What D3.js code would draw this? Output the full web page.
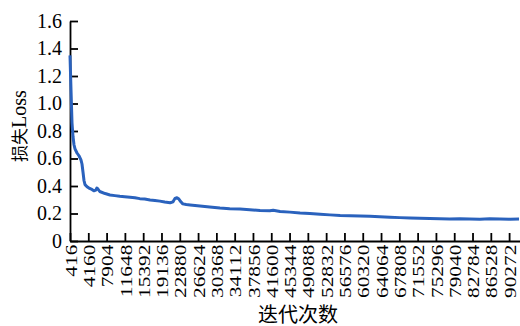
<!DOCTYPE html>
<html>
<head>
<meta charset="utf-8">
<script src="https://cdn.jsdelivr.net/npm/d3@7"></script>
<style>
  body { margin: 0; background: #fff; }
  svg text { font-family: "Liberation Serif", "Noto Sans CJK SC", serif; fill: #000; }
</style>
</head>
<body>
<svg id="chart" width="520" height="326"></svg>
<script>
// iteration numbers of the loss samples
const iterations = [416, 620, 825, 1030, 1234, 1440, 1850, 2250, 2660, 2870, 3080, 3280, 3490, 3900,
  4300, 4900, 5300, 5700, 5900, 6100, 6500, 7600, 8600, 9600, 10600, 11600, 12700, 13700, 14700,
  15700, 16800, 17800, 18800, 19800, 20900, 21500, 21900, 22300, 22700, 23100, 23500, 24200, 25000,
  27000, 29000, 31100, 33100, 35200, 37200, 39300, 41300, 42000, 43400, 45400, 47500, 49500, 51600,
  53600, 55700, 57700, 59800, 61800, 63800, 65900, 67900, 70000, 72000, 74000, 76100, 78100, 80200,
  82200, 84300, 86300, 88400, 90400, 92300];
// loss values
const losses = [1.35, 1.10, 0.86, 0.76, 0.70, 0.67, 0.64, 0.62, 0.59, 0.56, 0.50, 0.44, 0.41, 0.395,
  0.385, 0.375, 0.365, 0.37, 0.385, 0.38, 0.36, 0.345, 0.335, 0.33, 0.325, 0.322, 0.318, 0.315, 0.308,
  0.305, 0.298, 0.295, 0.29, 0.283, 0.278, 0.285, 0.31, 0.315, 0.305, 0.285, 0.27, 0.265, 0.262,
  0.255, 0.247, 0.24, 0.235, 0.232, 0.228, 0.222, 0.22, 0.224, 0.215, 0.21, 0.204, 0.2, 0.195,
  0.19, 0.186, 0.184, 0.182, 0.18, 0.177, 0.173, 0.17, 0.168, 0.165, 0.163, 0.162, 0.16, 0.162,
  0.16, 0.159, 0.161, 0.16, 0.159, 0.16];
const xTickValues = [416, 4160, 7904, 11648, 15392, 19136, 22880, 26624, 30368, 34112, 37856, 41600,
  45344, 49088, 52832, 56576, 60320, 64064, 67808, 71552, 75296, 79040, 82784, 86528, 90272];
const yTickValues = [0, 0.2, 0.4, 0.6, 0.8, 1.0, 1.2, 1.4, 1.6];

const margin = { top: 21, right: 0, bottom: 85, left: 70 };
const width = 520 - margin.left - margin.right;
const height = 326 - margin.top - margin.bottom;

const svg = d3.select("#chart");
const g = svg.append("g").attr("transform", "translate(" + margin.left + "," + margin.top + ")");

const x = d3.scaleLinear().domain([416, 92500]).range([0, width]);
const y = d3.scaleLinear().domain([0, 1.6]).range([height, 0]);

// x axis, ticks pointing inward, labels turned upright and a bit stretched
const xAxis = g.append("g")
  .attr("transform", "translate(0," + height + ")")
  .call(d3.axisBottom(x).tickValues(xTickValues).tickFormat(d => d)
    .tickSizeInner(-8).tickSizeOuter(0).tickPadding(4));
xAxis.selectAll("text")
  .attr("transform", "rotate(-90) scale(1.22,1)")
  .attr("x", -3).attr("y", 0).attr("dy", "0.35em")
  .style("text-anchor", "end")
  .style("font-size", "17.5px");

// y axis
const yAxis = g.append("g")
  .call(d3.axisLeft(y).tickValues(yTickValues).tickFormat(d => d === 0 ? "0" : d3.format(".1f")(d))
    .tickSizeInner(-8).tickSizeOuter(0).tickPadding(8));
yAxis.selectAll("text").style("font-size", "20px");

svg.selectAll(".domain, .tick line").attr("stroke", "#000").attr("stroke-width", 1.8);

// loss curve
const line = d3.line()
  .x((d, i) => x(iterations[i]))
  .y(d => y(d));
g.append("path")
  .datum(losses)
  .attr("d", line)
  .attr("fill", "none")
  .attr("stroke", "#2a62bd")
  .attr("stroke-width", 3)
  .attr("stroke-linejoin", "round");

// axis titles
const yTitle = svg.append("text")
  .attr("transform", "translate(26,126) rotate(-90)")
  .attr("text-anchor", "middle");
yTitle.append("tspan").style("font-size", "17px").text("损失");
yTitle.append("tspan").style("font-size", "20px").text("Loss");

svg.append("text")
  .attr("x", 298).attr("y", 322)
  .attr("text-anchor", "middle")
  .style("font-size", "20px")
  .text("迭代次数");
</script>
</body>
</html>
